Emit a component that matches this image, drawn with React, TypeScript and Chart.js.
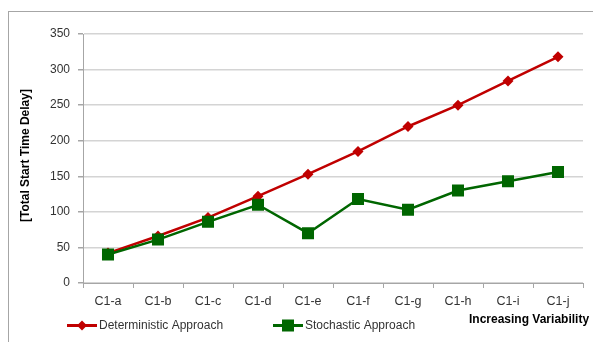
import React, { useEffect, useRef } from "react";
import { Chart, registerables } from "chart.js";

Chart.register(...registerables);

const categories = ["C1-a", "C1-b", "C1-c", "C1-d", "C1-e", "C1-f", "C1-g", "C1-h", "C1-i", "C1-j"];
const deterministic = [42, 66, 92, 122, 153, 185, 220, 250, 284, 318];
const stochastic = [40, 61, 86, 110, 70, 118, 103, 130, 143, 156];
const yMin = 0;
const yMax = 350;
const yStep = 50;
const yTitle = "[Total Start Time Delay]";
const xTitle = "Increasing Variability";
const seriesNames = ["Deterministic Approach", "Stochastic Approach"];

const RED = "#c00000";
const GREEN = "#006600";
const FONT = "'Liberation Sans', Arial, sans-serif";

function fitText(ctx: CanvasRenderingContext2D, text: string, x: number, y: number, width: number) {
  const w = ctx.measureText(text).width;
  const s = Math.min(1, width / w);
  ctx.save();
  ctx.translate(x, y);
  ctx.scale(s, 1);
  ctx.fillText(text, 0, 0);
  ctx.restore();
}

const labelsPlugin = {
  id: "customLabels",
  afterDraw(chart: any) {
    const ctx = chart.ctx as CanvasRenderingContext2D;
    ctx.save();
    // y title
    ctx.font = `bold 12px ${FONT}`;
    ctx.fillStyle = "#000";
    ctx.textAlign = "left";
    ctx.textBaseline = "middle";
    ctx.translate(17, 143);
    ctx.rotate(-Math.PI / 2);
    fitText(ctx, yTitle, -67, 0, 135);
    ctx.restore();

    ctx.save();
    ctx.font = `bold 12px ${FONT}`;
    ctx.fillStyle = "#000";
    ctx.textAlign = "left";
    ctx.textBaseline = "middle";
    fitText(ctx, xTitle, 460, 308, 123);

    // legend
    const ly = 313.5;
    ctx.lineWidth = 3;
    ctx.strokeStyle = RED;
    ctx.beginPath();
    ctx.moveTo(58, ly);
    ctx.lineTo(88, ly);
    ctx.stroke();
    ctx.fillStyle = RED;
    ctx.beginPath();
    ctx.moveTo(73 - 5, ly);
    ctx.lineTo(73, ly - 5);
    ctx.lineTo(73 + 5, ly);
    ctx.lineTo(73, ly + 5);
    ctx.closePath();
    ctx.fill();

    ctx.strokeStyle = GREEN;
    ctx.beginPath();
    ctx.moveTo(264, ly);
    ctx.lineTo(294, ly);
    ctx.stroke();
    ctx.fillStyle = GREEN;
    ctx.fillRect(279 - 6, ly - 6, 12, 12);

    ctx.font = `12px ${FONT}`;
    ctx.fillStyle = "#333";
    ctx.fillText(seriesNames[0], 90, ly);
    ctx.fillText(seriesNames[1], 296, ly);
    ctx.restore();
  },
};

export default function App() {
  const ref = useRef<HTMLCanvasElement>(null);

  useEffect(() => {
    document.body.style.margin = "0";
    if (!ref.current) return;
    const chart = new Chart(ref.current, {
      type: "line",
      data: {
        labels: categories,
        datasets: [
          {
            label: seriesNames[0],
            data: deterministic,
            borderColor: RED,
            backgroundColor: RED,
            borderWidth: 2.5,
            pointStyle: "rectRot",
            pointRadius: 5.5,
            pointBorderWidth: 0,
            order: 1,
          },
          {
            label: seriesNames[1],
            data: stochastic,
            borderColor: GREEN,
            backgroundColor: GREEN,
            borderWidth: 2.5,
            pointStyle: "rect",
            pointRadius: 8.5,
            pointBorderWidth: 0,
            order: 0,
          },
        ],
      },
      options: {
        responsive: false,
        animation: false,
        events: [],
        layout: { padding: { top: 22, right: 10, left: 0, bottom: 0 } },
        plugins: { legend: { display: false }, tooltip: { enabled: false } },
        scales: {
          x: {
            offset: true,
            afterFit: (s: any) => {
              s.height = 59;
            },
            grid: {
              offset: true,
              drawOnChartArea: false,
              drawTicks: true,
              tickLength: 5,
              color: "#a6a6a6",
            },
            border: { color: "#a6a6a6", width: 1 },
            ticks: {
              padding: 6,
              color: "#333",
              font: { family: FONT, size: 12.5 },
            },
          },
          y: {
            min: yMin,
            max: yMax,
            afterFit: (s: any) => {
              s.width = 74;
            },
            ticks: {
              stepSize: yStep,
              padding: 8,
              color: "#333",
              font: { family: FONT, size: 12 },
            },
            grid: {
              color: "#d4d4d4",
              lineWidth: 1.5,
              tickLength: 5,
              tickColor: "#a6a6a6",
            },
            border: { color: "#a6a6a6", width: 1 },
          },
        },
      },
      plugins: [labelsPlugin],
    });
    return () => chart.destroy();
  }, []);

  return (
    <div style={{ padding: "11px 0 0 8px", width: 593, height: 342, boxSizing: "border-box", overflow: "hidden" }}>
      <div
        style={{
          width: 585,
          height: 331,
          borderTop: "1px solid #a6a6a6",
          borderLeft: "1px solid #a6a6a6",
          boxSizing: "border-box",
          overflow: "hidden",
        }}
      >
        <canvas ref={ref} width={584} height={330} style={{ display: "block" }} />
      </div>
    </div>
  );
}
